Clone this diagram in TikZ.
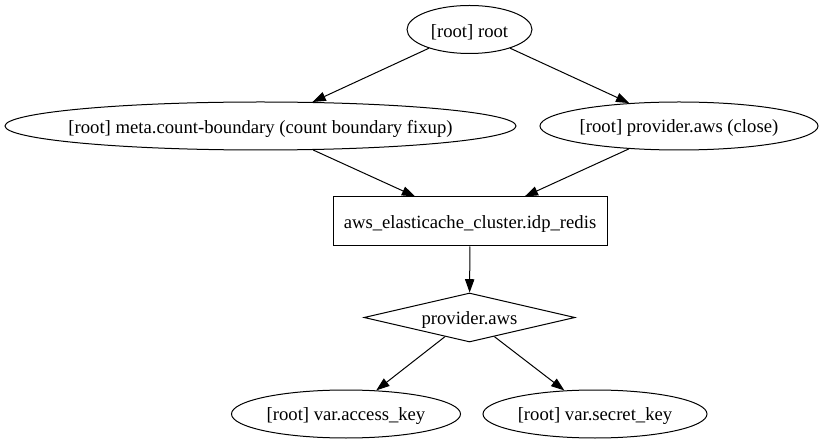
\documentclass[tikz,border=0pt]{standalone}
\usepackage{fontspec}
\setmainfont{Liberation Serif}
\usetikzlibrary{shapes.geometric,arrows.meta}
\begin{document}
\begin{tikzpicture}[x=1pt,y=-1pt,
  every node/.style={font=\fontsize{18.67}{22}\selectfont, inner sep=0pt, line width=1pt},
  every label/.style={yshift=-2.5pt},
  ell/.style={draw, ellipse, minimum height=48pt},
  boxnode/.style={draw, rectangle, minimum width=274pt, minimum height=49pt},
  dia/.style={draw, diamond, minimum width=211pt, minimum height=49pt},
  edge/.style={draw, line width=1pt, -{Triangle[length=13.3pt,width=9.3pt]}}]
\useasboundingbox (0,0) rectangle (824,443);
\node[ell, minimum width=125pt, label={center:[root] root}] (root) at (469.5,29.5) {};
\node[ell, minimum width=511pt, label={center:[root] meta.count-boundary (count boundary fixup)}] (meta) at (260.5,126) {};
\node[ell, minimum width=278pt, label={center:[root] provider.aws (close)}] (close) at (679,126) {};
\node[boxnode, label={center:aws\_elasticache\_cluster.idp\_redis}] (box) at (470,221.5) {};
\node[dia, label={center:provider.aws}] (prov) at (469.5,317.5) {};
\node[ell, minimum width=229pt, label={center:[root] var.access\_key}] (access) at (346,414) {};
\node[ell, minimum width=224pt, label={center:[root] var.secret\_key}] (secret) at (595,414) {};
\draw[edge] (root) -- (meta);
\draw[edge] (root) -- (close);
\draw[edge] (meta) -- (box);
\draw[edge] (close) -- (box);
\draw[edge] (box) -- (prov);
\draw[edge] (prov) -- (access);
\draw[edge] (prov) -- (secret);
\end{tikzpicture}
\end{document}
